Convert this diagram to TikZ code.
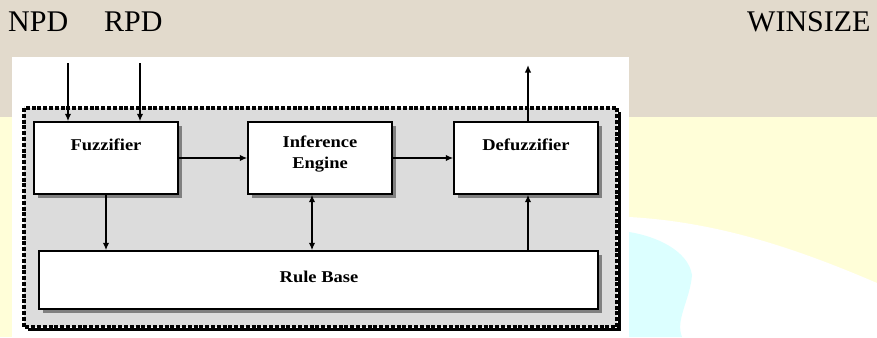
\documentclass[tikz,border=0pt]{standalone}
\usepackage{fontspec}
\setmainfont{Liberation Serif}
\usetikzlibrary{arrows.meta,shadows}

\definecolor{slidebeige}{HTML}{E2DACC}
\definecolor{slideyellow}{HTML}{FFFED8}
\definecolor{slidecyan}{HTML}{DCFFFF}
\definecolor{panelgrey}{HTML}{DCDCDC}
\definecolor{shadowgrey}{HTML}{808080}

\newcommand{\wide}[1]{\scalebox{1.12}[1]{#1}}

\tikzset{
  blockbox/.style={draw=black, line width=1.4pt, fill=white, rectangle,
    drop shadow={shadow xshift=4pt, shadow yshift=-4pt, fill=shadowgrey, opacity=1}},
  blocklabel/.style={font=\fontsize{16.5}{21}\selectfont\bfseries, align=center, inner sep=0pt},
  signal/.style={font=\fontsize{30}{34}\selectfont, anchor=base west, inner sep=0pt},
  flow/.style={draw=black, line width=1.9pt, -{Latex[length=7.5pt,width=6.5pt]}},
  twoway/.style={draw=black, line width=1.9pt, {Latex[length=7.5pt,width=6.5pt]}-{Latex[length=7.5pt,width=6.5pt]}},
}

\begin{document}
\begin{tikzpicture}[x=1pt, y=-1pt]
  \useasboundingbox (0,0) rectangle (877,337);

  % slide background
  \fill[slidebeige] (0,0) rectangle (877,117);
  \fill[slideyellow] (0,117) rectangle (877,337);
  \fill[white] (629,217) .. controls (720,222) and (800,250) .. (877,283)
     -- (877,337) -- (629,337) -- cycle;
  \fill[slidecyan] (629,232) .. controls (655,236) and (688,250) .. (692,275)
     .. controls (690,300) and (675,320) .. (682,337) -- (629,337) -- cycle;

  % white sheet carrying the block diagram
  \fill[white] (12,57) rectangle (629,337);

  % grey panel with dotted frame
  \fill[panelgrey] (24,108) rectangle (617,327);
  \draw[black, line width=3pt] (619,112) -- (619,329) -- (28,329);
  \draw[black, line width=4pt, dash pattern=on 4pt off 1.8pt] (24,108) rectangle (617,327);

  % blocks
  \node[blockbox, minimum width=144pt, minimum height=72pt] (fuzz) at (106,158) {};
  \node[blockbox, minimum width=144pt, minimum height=72pt] (inf) at (320,158) {};
  \node[blockbox, minimum width=144pt, minimum height=72pt] (defuzz) at (526,158) {};
  \node[blockbox, minimum width=559pt, minimum height=58pt] (rule) at (318.5,280) {};

  \node[blocklabel] (fuzzlbl) at (106,145) {\wide{Fuzzifier}};
  \node[blocklabel] (inflbl) at (320,154) {\wide{Inference}\\\wide{Engine}};
  \node[blocklabel] (defuzzlbl) at (526,145) {\wide{Defuzzifier}};
  \node[blocklabel] (rulelbl) at (319,277) {\wide{Rule Base}};

  % signal names
  \node[signal] (npd) at (8,32) {NPD};
  \node[signal] (rpd) at (104,32) {RPD};
  \node[signal] (winsize) at (747,32) {WINSIZE};

  % inputs and output
  \coordinate (npdin) at (68,63);
  \coordinate (rpdin) at (140,63);
  \coordinate (winout) at (528,65);
  \draw[flow] (npdin) -- (npdin |- fuzz.north);
  \draw[flow] (rpdin) -- (rpdin |- fuzz.north);
  \draw[flow] (winout |- defuzz.north) -- (winout);

  % internal connections
  \draw[flow] (fuzz.east) -- (inf.west);
  \draw[flow] (inf.east) -- (defuzz.west);
  \draw[flow] (fuzz.south) -- (fuzz.south |- rule.north);
  \coordinate (infrule) at (312,194);
  \draw[twoway] (infrule |- inf.south) -- (infrule |- rule.north);
  \draw[flow] (winout |- rule.north) -- (winout |- defuzz.south);
\end{tikzpicture}
\end{document}
